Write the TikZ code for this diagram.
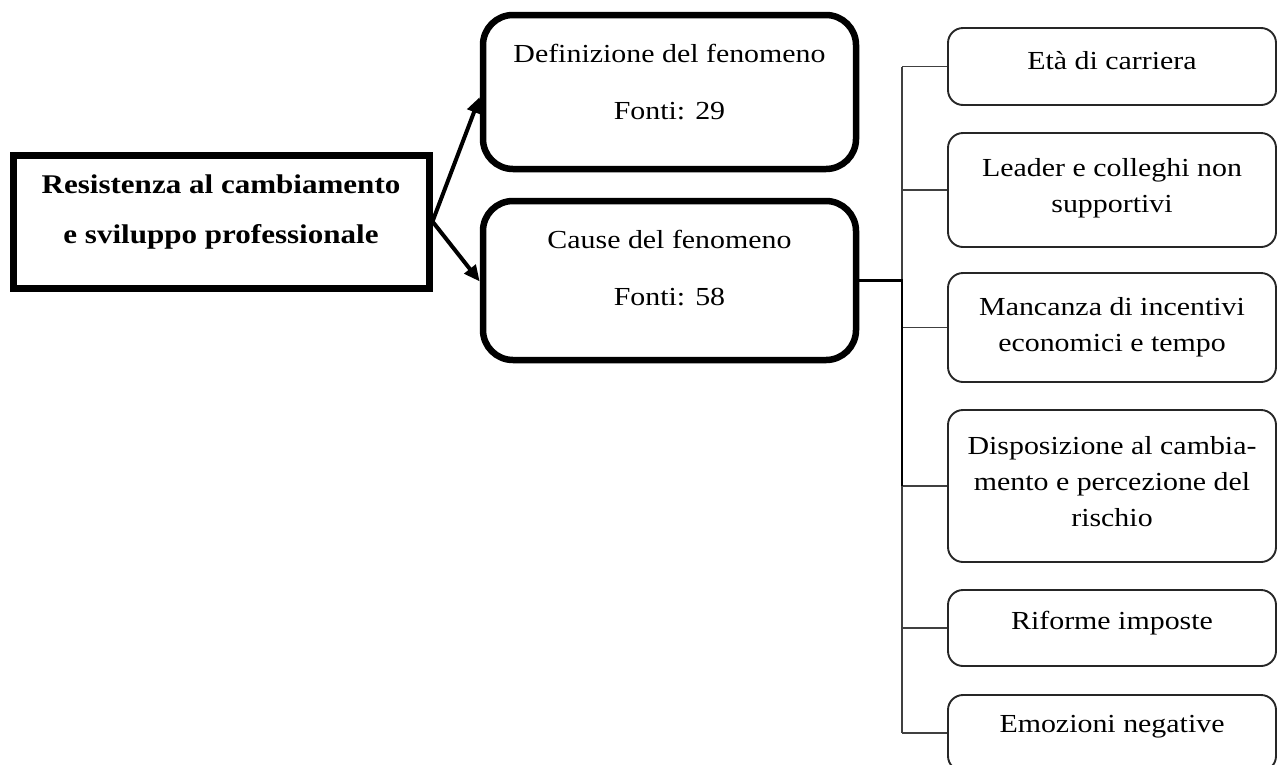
\documentclass[tikz,border=0pt]{standalone}
\usepackage{fontspec}
\setmainfont{Liberation Serif}[FakeStretch=1.15]
\usetikzlibrary{arrows.meta}
\begin{document}
\begin{tikzpicture}[x=1pt,y=-1pt,
  mainbox/.style={draw=black, line width=7pt, minimum width=416pt, minimum height=133pt,
    align=center, inner sep=0pt, font=\fontsize{27}{50}\selectfont\bfseries},
  midbox/.style={draw=black, line width=6.5pt, rounded corners=30pt, minimum width=373pt,
    align=center, inner sep=0pt, font=\fontsize{26}{57}\selectfont},
  subbox/.style={draw=black!85, line width=1.9pt, rounded corners=15pt, minimum width=328pt,
    align=center, inner sep=0pt, font=\fontsize{26}{36}\selectfont},
  link/.style={draw=black!75, line width=1.8pt},
  feed/.style={draw=black, line width=2.6pt},
  arrowline/.style={draw=black, line width=4pt, -{Triangle[length=16pt,width=14pt]}}
]
\useasboundingbox (0,0) rectangle (1277,764);
\clip (0,0) rectangle (1277,764);

% topic and its two branches
\node[mainbox, text depth=25pt] (root) at (221,221.5)
  {Resistenza al cambiamento\\e sviluppo professionale};
\node[midbox, minimum height=154pt, text depth=20pt] (def) at (669.5,92)
  {Definizione del fenomeno\\Fonti: 29};
\node[midbox, minimum height=159pt, text depth=26pt] (cause) at (669.5,280.5)
  {Cause del fenomeno\\Fonti: 58};

% causes
\node[subbox, minimum height=77pt, text depth=12pt] (eta) at (1112,66.5) {Età di carriera};
\node[subbox, minimum height=114pt, text depth=10pt] (leader) at (1112,190)
  {Leader e colleghi non\\supportivi};
\node[subbox, minimum height=109pt] (manc) at (1112,327.5)
  {Mancanza di incentivi\\economici e tempo};
\node[subbox, minimum height=152pt, text depth=10pt] (disp) at (1112,486)
  {Disposizione al cambia-\\mento e percezione del\\rischio};
\node[subbox, minimum height=76pt, text depth=16pt] (rif) at (1112,628) {Riforme imposte};
\node[subbox, minimum height=76pt, text depth=18pt] (emo) at (1112,733) {Emozioni negative};

% arrows from the topic
\draw[arrowline] (root.east) -- ([yshift=-5pt]def.west);
\draw[arrowline] (root.east) -- ([yshift=-1pt]cause.west);

% bus linking the causes
\coordinate (bus) at (902,0);
\draw[link] (eta.west -| bus) -- (emo.west -| bus);
\foreach \n in {eta,leader,manc,disp,rif,emo}
  \draw[link] (\n.west -| bus) -- (\n.west);
\draw[feed] (cause.east) -- (cause.east -| bus) -- (disp.west -| bus);
\end{tikzpicture}
\end{document}
